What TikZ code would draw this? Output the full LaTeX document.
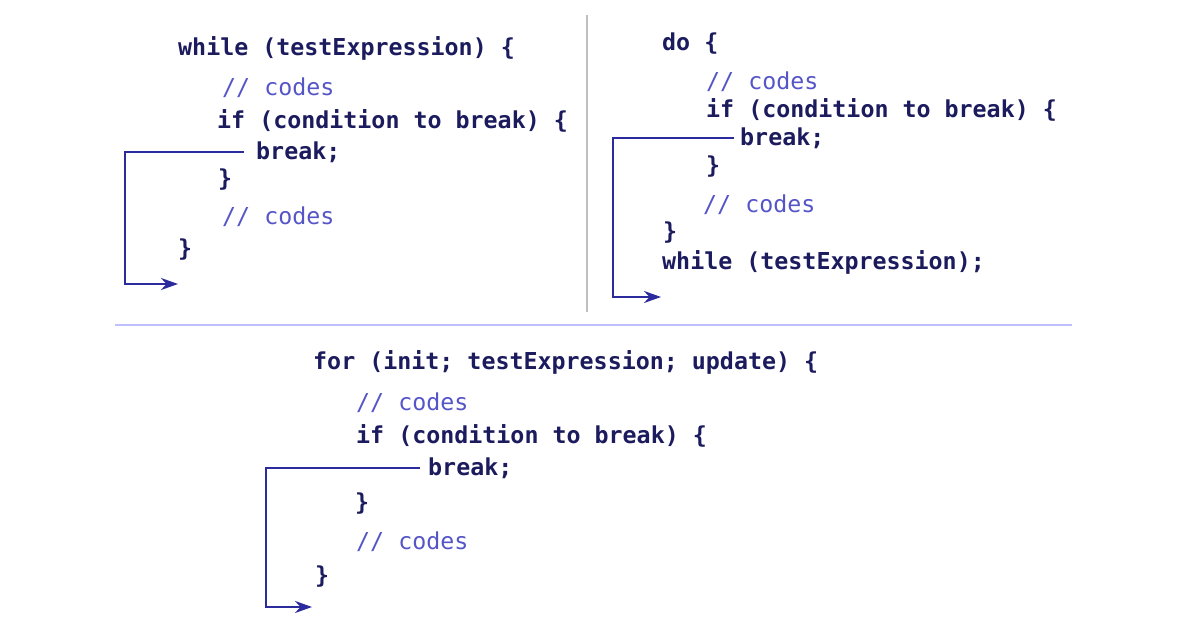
\documentclass[tikz,border=0pt]{standalone}
\usepackage{fontspec}
\setmonofont{DejaVu Sans Mono}
\usetikzlibrary{arrows.meta}
\definecolor{codeblue}{HTML}{1B1B5E}
\definecolor{commentblue}{HTML}{5555C8}
\definecolor{linkblue}{HTML}{2B2B9E}
\begin{document}
\begin{tikzpicture}[
		x=1pt, y=-1pt,
		every node/.style={anchor=west, inner sep=0pt, font=\fontsize{23.3}{26}\selectfont\ttfamily\bfseries, text=codeblue},
		comment/.style={text=commentblue, font=\fontsize{23.3}{26}\selectfont\ttfamily},
		arrow/.style={-{Stealth[length=17pt, width=12pt]}, linkblue, line width=2.6pt},
		divider/.style={line width=1.5pt, color=black!25}
		]
		\useasboundingbox (0,0) rectangle (1196,628);
		
		% while loop
		\node (wh) at (178,48) {while (testExpression) \{};
		\node[comment] (wc1) at (222,88) {// codes};
		\node (wif) at (217,121) {if (condition to break) \{};
		\node (wbrk) at (256,152) {break;};
		\node (wcl) at (218,180) {\}};
		\node[comment] (wc2) at (222,217) {// codes};
		\node (wend) at (178,250) {\}};
		\coordinate (wdn) at (125,284);
		\coordinate (wout) at (178,284);
		\draw[arrow] ([xshift=-12pt]wbrk.west) -| (wdn) -- (wout);
		
		% do while loop
		\node (dd) at (662,44) {do \{};
		\node[comment] (dc1) at (706,82) {// codes};
		\node (dif) at (706,110) {if (condition to break) \{};
		\node (dbrk) at (740,138) {break;};
		\node (dcl) at (706,167) {\}};
		\node[comment] (dc2) at (703,205) {// codes};
		\node (dend) at (663,233) {\}};
		\node (dwh) at (662,262) {while (testExpression);};
		\coordinate (ddn) at (613,297);
		\coordinate (dout) at (661,297);
		\draw[arrow] ([xshift=-6pt]dbrk.west) -| (ddn) -- (dout);
		
		% for loop
		\node (ff) at (313,362) {for (init; testExpression; update) \{};
		\node[comment] (fc1) at (356,403) {// codes};
		\node (fif) at (356,436) {if (condition to break) \{};
		\node (fbrk) at (428,468) {break;};
		\node (fcl) at (355,504) {\}};
		\node[comment] (fc2) at (356,542) {// codes};
		\node (fend) at (315,577) {\}};
		\coordinate (fdn) at (266,607);
		\coordinate (fout) at (312,607);
		\draw[arrow] ([xshift=-8pt]fbrk.west) -| (fdn) -- (fout);
		
		% dividers
		\draw[divider] (587,15) -- (587,312);
		\draw[divider, color=blue!25] (115,325) -- (1072,325);
		
	\end{tikzpicture}
\end{document}
